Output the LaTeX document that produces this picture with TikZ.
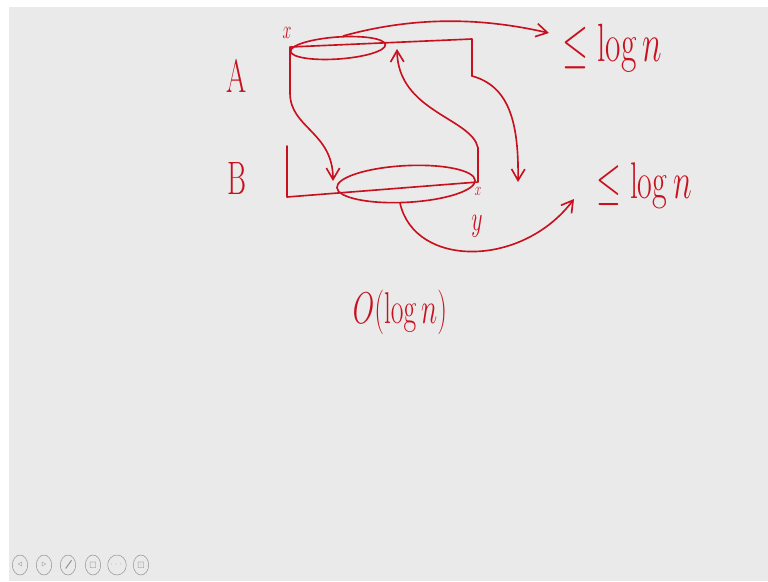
\RequirePackage{fix-cm}
\documentclass[tikz,border=0pt]{standalone}
\usepackage{amsmath}
\usepackage{amssymb}
\usepackage{xcolor}
\usepackage{tikz}
\usetikzlibrary{arrows.meta, positioning, shapes.geometric}
\definecolor{inkred}{HTML}{C8101E}
\definecolor{boardgray}{HTML}{EAEAEA}
\definecolor{icongray}{HTML}{8E8E8E}
\tikzset{
    ink/.style={draw=inkred, line width=1.4pt, line cap=round, line join=round},
    inkflow/.style={ink, -{Straight Barb[length=3.4mm, width=4mm]}},
    hand/.style={text=inkred, inner sep=0pt, xscale=0.62, transform shape},
    ring/.style={ink, ellipse, inner sep=0pt},
    tool/.style={draw=icongray, line width=0.4pt, ellipse, text=icongray,
        minimum width=0.46cm, minimum height=0.6cm, inner sep=0pt, font=\scriptsize}
}

\begin{document}
\begin{tikzpicture}[x=0.03cm, y=-0.03cm]
    \useasboundingbox (0,0) rectangle (768,581);
    \fill[white] (0,0) rectangle (768,581);
    \fill[boardgray] (9,7) rectangle (768,581);

    % labels of the two arrays
    \node[hand, font=\fontsize{40}{40}\selectfont] (labA) at (237,76) {A};
    \node[hand, font=\fontsize{40}{40}\selectfont] (labB) at (237,178) {B};

    % array A (open at the bottom)
    \coordinate (aBL) at (290,93);
    \coordinate (aTL) at (290,47);
    \coordinate (aTR) at (472,39);
    \coordinate (aBR) at (472,76);
    \draw[ink] (aBL) -- (aTL) -- (aTR) -- (aBR);
    \node[hand, font=\fontsize{22}{22}\selectfont] (xA) at (287,33) {$x$};
    \node[ring, minimum width=2.85cm, minimum height=0.66cm, rotate=4] (ellA) at (338,48) {};

    % array B (open at the top)
    \coordinate (bTL) at (287,146);
    \coordinate (bBL) at (287,197);
    \coordinate (bBR) at (478,182);
    \coordinate (bTR) at (478,148);
    \draw[ink] (bTL) -- (bBL) -- (bBR) -- (bTR);
    \node[hand, font=\fontsize{16}{16}\selectfont] (xB) at (478,191) {$x$};
    \node[hand, font=\fontsize{30}{30}\selectfont] (yB) at (477,226) {$y$};
    \node[ring, minimum width=4.15cm, minimum height=1.1cm, rotate=3] (ellB) at (406,184) {};

    % bounds
    \node[hand, font=\fontsize{46}{46}\selectfont] (boundA) at (612,48) {$\leq\log n$};
    \node[hand, font=\fontsize{44}{44}\selectfont] (boundB) at (644,186) {$\leq\log n$};
    \node[hand, font=\fontsize{38}{38}\selectfont] (cost) at (400,312) {$O(\log n)$};

    \coordinate (tipA) at (549,33);
    \coordinate (tipL) at (333,181);
    \coordinate (tipR) at (518,182);
    \coordinate (tipUp) at (397,49);
    \coordinate (tipB) at (574,199);

    \draw[inkflow] (ellA.62) .. controls (430,12) and (500,22) .. (tipA);
    \draw[inkflow] (aBL) .. controls (290,128) and (333,132) .. (tipL);
    \draw[inkflow] (aBR) .. controls (508,86) and (519,120) .. (tipR);
    \draw[inkflow] (bTR) .. controls (472,118) and (398,112) .. (tipUp);
    \draw[inkflow] (ellB.-110) .. controls (415,268) and (522,268) .. (tipB);

    % player buttons
    \node[tool] (back) at (20,565) {$\triangleleft$};
    \node[tool] (next) at (44,565) {$\triangleright$};
    \node[tool] (pen) at (68,565) {};
    \draw[icongray, line width=0.8pt] ([xshift=-2pt,yshift=-3pt]pen.center) -- ([xshift=3pt,yshift=4pt]pen.center);
    \node[tool] (slide) at (93,565) {$\square$};
    \node[tool] (more) at (117,565) {$\cdots$};
    \node[tool] (screen) at (141,565) {$\boxdot$};
\end{tikzpicture}
\end{document}
